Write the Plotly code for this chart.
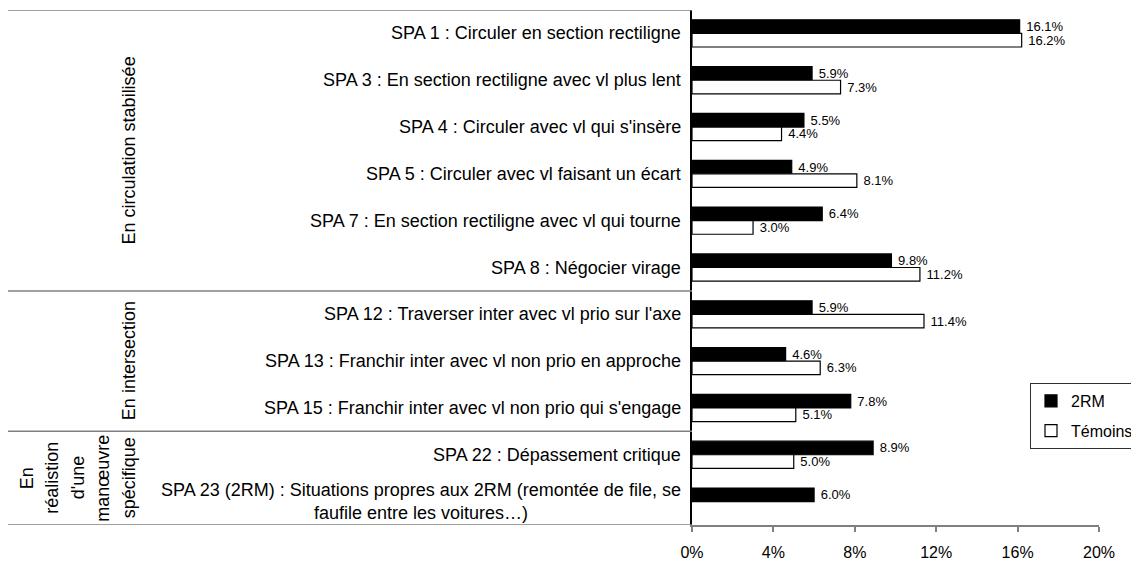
import plotly.graph_objects as go

categories = [
    "SPA 1 : Circuler en section rectiligne",
    "SPA 3 : En section rectiligne avec vl plus lent",
    "SPA 4 : Circuler avec vl qui s'insère",
    "SPA 5 : Circuler avec vl faisant un écart",
    "SPA 7 : En section rectiligne avec vl qui tourne",
    "SPA 8 : Négocier virage",
    "SPA 12 : Traverser inter avec vl prio sur l'axe",
    "SPA 13 : Franchir inter avec vl non prio en approche",
    "SPA 15 : Franchir inter avec vl non prio qui s'engage",
    "SPA 22 : Dépassement critique",
    "SPA 23 (2RM) : Situations propres aux 2RM (remontée de file, se<br>faufile entre les voitures…)",
]
values_2rm = [16.1, 5.9, 5.5, 4.9, 6.4, 9.8, 5.9, 4.6, 7.8, 8.9, 6.0]
values_temoins = [16.2, 7.3, 4.4, 8.1, 3.0, 11.2, 11.4, 6.3, 5.1, 5.0, None]
x_ticks = [0, 4, 8, 12, 16, 20]

groups = [
    (["En circulation stabilisée"], 0, 5),
    (["En intersection"], 6, 8),
    (["En", "réalistion", "d'une", "manœuvre", "spécifique"], 9, 10),
]

FONT = "Arial, Liberation Sans, sans-serif"
idx = list(range(len(categories)))

# page body has an 8px margin: compensate
OFF = 8
W, H = 1139 - OFF, 561 - OFF
PX0, PX1, PY0, PY1 = 692, 1099, 10, 525  # plot area in screen px

fig = go.Figure()
fig.add_trace(go.Bar(
    name="2RM", y=idx, x=values_2rm, orientation="h", legendgroup="a",
    marker=dict(color="black", line=dict(color="black", width=1.2)),
    text=[f"\u00a0{v:.1f}%" for v in values_2rm], textposition="outside",
    constraintext="none",
    textfont=dict(size=13, color="black", family=FONT), cliponaxis=False,
))
fig.add_trace(go.Bar(
    name="Témoins", y=idx, x=values_temoins, orientation="h", legendgroup="b",
    marker=dict(color="white", line=dict(color="black", width=1.2)),
    text=[f"\u00a0{v:.1f}%" if v is not None else "" for v in values_temoins],
    textposition="outside", constraintext="none",
    textfont=dict(size=13, color="black", family=FONT), cliponaxis=False,
))

# category labels
for i, c in enumerate(categories):
    fig.add_annotation(
        x=0, xref="paper", xshift=-9, y=i, yref="y", text=c, showarrow=False,
        xanchor="right", yanchor="middle", align="center",
        font=dict(size=18, color="black", family=FONT),
    )

# separators
GRAY = "#808080"
for yb in [-0.5, 5.5, 8.5, 10.5]:
    fig.add_shape(type="line", xref="paper", yref="y", xsizemode="pixel", xanchor=0,
                  x0=-(PX0 - OFF), x1=0, y0=yb, y1=yb,
                  line=dict(color=GRAY, width=1.5))

# group labels
for lines, a, b in groups:
    ymid = (a + b) / 2
    n = len(lines)
    for k, t in enumerate(lines):
        px = 129 - (n - 1 - k) * 25.5
        fig.add_annotation(
            x=0, xref="paper", xshift=px - PX0, y=ymid, yref="y", text=t, showarrow=False,
            textangle=-90, xanchor="center", yanchor="middle",
            font=dict(size=18, color="black", family=FONT),
        )

fig.update_layout(
    width=W, height=H,
    margin=dict(l=PX0 - OFF, r=W - (PX1 - OFF), t=PY0 - OFF, b=H - (PY1 - OFF),
                autoexpand=False),
    paper_bgcolor="white", plot_bgcolor="white",
    barmode="group", bargap=0.42, bargroupgap=0,
    font=dict(family=FONT, size=16, color="black"),
    showlegend=True,
    legend=dict(x=(1030 - PX0) / (PX1 - PX0), y=(PY1 - 383) / (PY1 - PY0),
                xanchor="left", yanchor="top", traceorder="grouped",
                bordercolor="#303030", borderwidth=1, bgcolor="white",
                font=dict(size=16, color="black"), tracegroupgap=6),
    xaxis=dict(range=[0, 20], tickvals=x_ticks, ticktext=[f"{t}%" for t in x_ticks],
               showgrid=False, zeroline=False, showline=True, linecolor=GRAY, linewidth=1.5,
               ticks="outside", ticklen=5, tickcolor=GRAY, tickwidth=1.5,
               ticklabelstandoff=7,
               tickfont=dict(size=16, color="black")),
    yaxis=dict(range=[10.5, -0.5], showticklabels=False, showgrid=False, zeroline=False,
               showline=True, linecolor="black", linewidth=1.5, ticks=""),
)

fig.write_html("out.html")
